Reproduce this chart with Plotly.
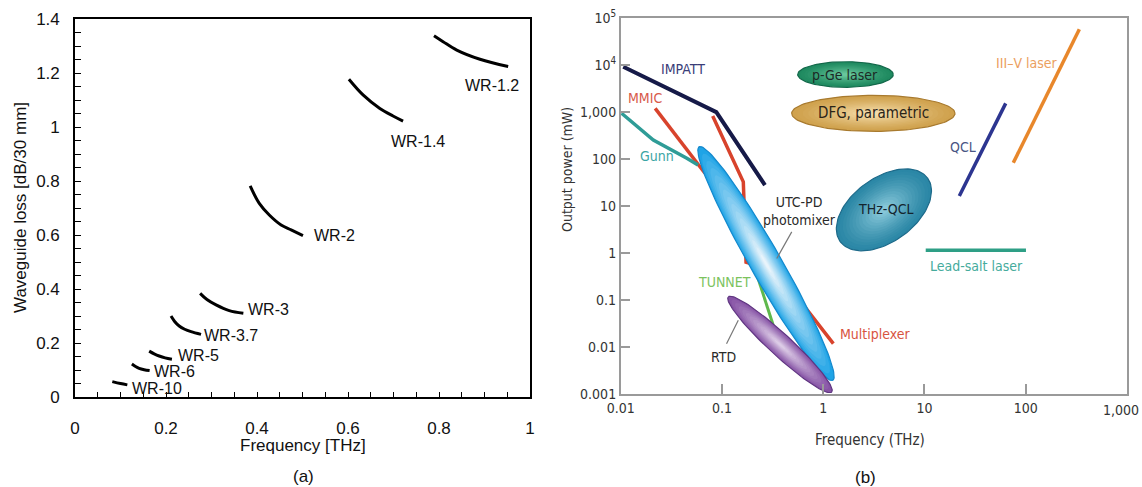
import numpy as np
import plotly.graph_objects as go

W, H = 1142, 487

# ---------------- panel (a) data: waveguide loss curves ----------------
wr_labels = ["WR-10", "WR-6", "WR-5", "WR-3.7", "WR-3", "WR-2", "WR-1.4", "WR-1.2"]
wr10_f = [0.082, 0.100, 0.115]
wr10_l = [0.058, 0.051, 0.046]
wr6_f = [0.125, 0.133, 0.141, 0.152, 0.164]
wr6_l = [0.123, 0.114, 0.107, 0.102, 0.099]
wr5_f = [0.163, 0.174, 0.185, 0.198, 0.213]
wr5_l = [0.171, 0.161, 0.153, 0.146, 0.141]
wr37_f = [0.211, 0.219, 0.229, 0.241, 0.255, 0.277]
wr37_l = [0.301, 0.281, 0.264, 0.252, 0.243, 0.233]
wr3_f = [0.275, 0.290, 0.310, 0.339, 0.370]
wr3_l = [0.385, 0.362, 0.342, 0.321, 0.311]
wr2_f = [0.385, 0.405, 0.427, 0.453, 0.475, 0.501]
wr2_l = [0.783, 0.718, 0.675, 0.638, 0.620, 0.599]
wr14_f = [0.602, 0.633, 0.670, 0.699, 0.721]
wr14_l = [1.178, 1.120, 1.070, 1.042, 1.023]
wr12_f = [0.789, 0.809, 0.839, 0.890, 0.952]
wr12_l = [1.339, 1.317, 1.286, 1.252, 1.225]
wr_label_f = [0.180, 0.218, 0.272, 0.343, 0.426, 0.570, 0.754, 0.917]
wr_label_l = [0.034, 0.095, 0.153, 0.228, 0.326, 0.601, 0.947, 1.154]

# ---------------- panel (b) data: THz source output power ----------------
impatt_f = [0.0106, 0.088, 0.266]
impatt_p = [9300, 1000, 28]
mmic1_f = [0.0219, 0.068]
mmic1_p = [1205, 50]
mmic2_f = [0.081, 0.1626, 0.165, 0.173, 0.203, 0.436, 1.26]
mmic2_p = [826, 32.8, 13.4, 0.637, 0.577, 0.224, 0.0117]
gunn_f = [0.0102, 0.021, 0.045, 0.058]
gunn_p = [950, 254, 104, 75]
tunnet_f = [0.208, 0.321]
tunnet_p = [0.523, 0.0289]
qcl_f = [22.1, 63.5]
qcl_p = [16.3, 1541]
iiiv_f = [75.5, 339]
iiiv_p = [83.4, 58200]
leadsalt_f = [10.3, 100.7]
leadsalt_p = [1.15, 1.15]
utc_end_f = [0.0596, 1.245]
utc_end_p = [183, 0.00194]
rtd_end_f = [0.1156, 1.213]
rtd_end_p = [0.116, 0.00109]
pge_center = (1.66, 6340)
dfg_center = (3.13, 942)
thz_center = (3.98, 8.3)
utc_ptr_f = [0.489, 0.348]
utc_ptr_p = [2.82, 0.764]
rtd_ptr_f = [0.145, 0.111]
rtd_ptr_p = [0.0369, 0.0117]

x_ticks_b = [0.01, 0.1, 1, 10, 100, 1000]
x_text_b = ["0.01", "0.1", "1", "10", "100", "1,000"]
y_ticks_b = [0.001, 0.01, 0.1, 1, 10, 100, 1000, 1e4, 1e5]
y_text_b = ["0.001", "0.01", "0.1", "1", "10", "100", "1,000", "10<sup>4</sup>", "10<sup>5</sup>"]

# ---------------- layout geometry ----------------
xa_dom = [75 / W, 530 / W]
ya_dom = [(H - 397.3) / H, (H - 19.3) / H]
xb_dom = [620.7 / W, 1126.9 / W]
yb_dom = [(H - 393.8) / H, (H - 18.3) / H]
KX = (xb_dom[1] - xb_dom[0]) * W / 5.0   # px per decade
KY = (yb_dom[1] - yb_dom[0]) * H / 8.0

ARIAL = "Liberation Sans, Arial, sans-serif"
NARROW = "DejaVu Sans Condensed, Liberation Sans Narrow, Arial Narrow, Liberation Sans, sans-serif"

fig = go.Figure()

# ---- panel (a) traces
for f, l in [(wr10_f, wr10_l), (wr6_f, wr6_l), (wr5_f, wr5_l), (wr37_f, wr37_l),
             (wr3_f, wr3_l), (wr2_f, wr2_l), (wr14_f, wr14_l), (wr12_f, wr12_l)]:
    fig.add_trace(go.Scatter(x=f, y=l, mode="lines", line=dict(color="black", width=3, shape="spline"),
                             xaxis="x", yaxis="y", showlegend=False, hoverinfo="skip"))

annotations = []
for name, fx, ly in zip(wr_labels, wr_label_f, wr_label_l):
    annotations.append(dict(x=fx, y=ly, xref="x", yref="y", text=name, showarrow=False,
                            font=dict(family=ARIAL, size=16, color="#111"), xanchor="center", yanchor="middle"))


# ---- helper for ellipses on log-log panel (b)
def mix(c1, c2, t):
    a = np.array([int(c1[i:i + 2], 16) for i in (1, 3, 5)], float)
    b = np.array([int(c2[i:i + 2], 16) for i in (1, 3, 5)], float)
    c = a + (b - a) * t
    return "rgb(%d,%d,%d)" % tuple(np.round(c))


def ellipse_xy(cf, cp, a, b, theta, s):
    t = np.linspace(0, 2 * np.pi, 120)
    u0, v0 = np.log10(cf) * KX, np.log10(cp) * KY
    ct, st = np.cos(theta), np.sin(theta)
    u = u0 + s * (a * np.cos(t) * ct - b * np.sin(t) * st)
    v = v0 + s * (a * np.cos(t) * st + b * np.sin(t) * ct)
    return 10 ** (u / KX), 10 ** (v / KY)


def add_ellipse(cf, cp, a, b, theta, edge, outer, inner, n=14, smin=0.12, gamma=1.3):
    for k in range(n):
        s = 1 - (1 - smin) * k / (n - 1)
        t = (k / (n - 1)) ** gamma
        xs, ys = ellipse_xy(cf, cp, a, b, theta, s)
        fig.add_trace(go.Scatter(x=xs, y=ys, mode="lines", fill="toself",
                                 fillcolor=mix(outer, inner, t),
                                 line=dict(color=edge if k == 0 else mix(outer, inner, t), width=1.2 if k == 0 else 0),
                                 xaxis="x2", yaxis="y2", showlegend=False, hoverinfo="skip"))


def add_ellipse_ends(f_ends, p_ends, half_w, edge, outer, inner, **kw):
    u = np.log10(f_ends) * KX
    v = np.log10(p_ends) * KY
    a = 0.5 * np.hypot(u[1] - u[0], v[1] - v[0])
    theta = np.arctan2(v[1] - v[0], u[1] - u[0])
    cf = 10 ** ((u[0] + u[1]) / 2 / KX)
    cp = 10 ** ((v[0] + v[1]) / 2 / KY)
    add_ellipse(cf, cp, a, half_w, theta, edge, outer, inner, **kw)


def add_line(f, p, color, width):
    fig.add_trace(go.Scatter(x=f, y=p, mode="lines", line=dict(color=color, width=width),
                             xaxis="x2", yaxis="y2", showlegend=False, hoverinfo="skip"))


# ---- panel (b) traces
add_ellipse(pge_center[0], pge_center[1], 47.8, 12.8, 0.0, "#13684a", "#1f8a60", "#68c79c")
add_ellipse(dfg_center[0], dfg_center[1], 81.7, 18.0, 0.0, "#a87a2e", "#d0a24e", "#f4dcaa")
add_ellipse(thz_center[0], thz_center[1], 54, 32, np.radians(36), "#1d6a8a", "#2b87a6", "#86c6d8")

add_line(mmic1_f, mmic1_p, "#d8432c", 3.5)
add_line(mmic2_f, mmic2_p, "#d8432c", 3.5)
add_line(gunn_f, gunn_p, "#2f9c97", 3.5)
add_line(impatt_f, impatt_p, "#161a48", 4)
add_line(tunnet_f, tunnet_p, "#5fb84c", 3)
add_line(qcl_f, qcl_p, "#2c3590", 3.5)
add_line(iiiv_f, iiiv_p, "#e8872b", 3.5)
add_line(leadsalt_f, leadsalt_p, "#2e9f86", 3.5)

add_ellipse_ends(utc_end_f, utc_end_p, 15.5, "#1488cc", "#1fa4e6", "#e8f4fb", n=16, smin=0.08, gamma=0.9)
add_ellipse_ends(rtd_end_f, rtd_end_p, 11.0, "#5f3580", "#8653a5", "#dccbe6", n=14, smin=0.1, gamma=1.0)

add_line(utc_ptr_f, utc_ptr_p, "#777777", 1.2)
add_line(rtd_ptr_f, rtd_ptr_p, "#777777", 1.2)


def lab(text, f, p, color, size=14):
    annotations.append(dict(x=np.log10(f), y=np.log10(p), xref="x2", yref="y2", text=text, showarrow=False,
                            font=dict(family=NARROW, size=size, color=color), xanchor="center", yanchor="middle"))


lab("IMPATT", 0.0415, 8300, "#3a3d78")
lab("MMIC", 0.0174, 2028, "#d85a4a")
lab("Gunn", 0.0227, 116, "#3aa5a5")
lab("p-Ge laser", pge_center[0], pge_center[1], "#1c2a26")
lab("DFG, parametric", dfg_center[0], dfg_center[1], "#2a2418", 15)
lab("THz-QCL", 4.2, 8.6, "#14242e")
lab("UTC-PD<br>photomixer", 0.582, 7.87, "#2a2a2a")
lab("TUNNET", 0.107, 0.242, "#7cc35e")
lab("RTD", 0.103, 0.0061, "#2a2a2a")
lab("Multiplexer", 3.29, 0.0192, "#d8543f")
lab("QCL", 23.9, 183, "#4a5584")
lab("III\u2013V laser", 102, 11000, "#eba060")
lab("Lead-salt laser", 32.7, 0.531, "#45ab9c")

# last x tick label of panel (b): drawn right-aligned so it stays inside the page
x_text_b_shown = x_text_b[:-1] + [""]
annotations.append(dict(x=np.log10(x_ticks_b[-1]), y=(H - 410) / H, xref="x2", yref="paper",
                        text=x_text_b[-1], showarrow=False, xanchor="right", yanchor="middle", xshift=14,
                        font=dict(family=NARROW, size=14, color="#333")))


# ---- titles / captions
def paper_text(text, x, y, family, size, color, angle=0):
    annotations.append(dict(x=x / W, y=(H - y) / H, xref="paper", yref="paper", text=text, showarrow=False,
                            textangle=angle, font=dict(family=family, size=size, color=color),
                            xanchor="center", yanchor="middle"))


paper_text("Frequency [THz]", 303, 445, ARIAL, 17, "#111")
paper_text("Waveguide loss [dB/30 mm]", 20, 208, ARIAL, 17, "#111", -90)
paper_text("(a)", 303, 476.5, ARIAL, 17, "#111")
paper_text("Frequency (THz)", 870, 440, NARROW, 15, "#333")
paper_text("Output power (mW)", 567, 170, NARROW, 14, "#333", -90)
paper_text("(b)", 865, 477.5, ARIAL, 17, "#111")

fig.update_layout(
    template=None,
    width=W, height=H, margin=dict(l=0, r=0, t=0, b=0, pad=0), autosize=False,
    paper_bgcolor="white", plot_bgcolor="white",
    annotations=annotations,
    xaxis=dict(domain=xa_dom, range=[0, 1], anchor="y", automargin=False, tickvals=[0, 0.2, 0.4, 0.6, 0.8, 1],
               ticktext=["0", "0.2", "0.4", "0.6", "0.8", "1"], ticklabeloverflow="allow",
               ticks="inside", ticklen=6, tickcolor="black", tickwidth=1.2,
               minor=dict(dtick=0.05, ticks="inside", ticklen=6, tickcolor="black", tickwidth=1.2),
               showline=True, linecolor="black", linewidth=1.6, mirror=True, showgrid=False, zeroline=False,
               tickfont=dict(family=ARIAL, size=17, color="#111"), ticklabelstandoff=14),
    yaxis=dict(domain=ya_dom, range=[0, 1.4], anchor="x", automargin=False,
               tickvals=[0, 0.2, 0.4, 0.6, 0.8, 1, 1.2, 1.4],
               ticktext=["0", "0.2", "0.4", "0.6", "0.8", "1", "1.2", "1.4"], ticklabeloverflow="allow",
               ticks="inside", ticklen=6, tickcolor="black", tickwidth=1.2,
               minor=dict(dtick=0.05, ticks="inside", ticklen=6, tickcolor="black", tickwidth=1.2),
               showline=True, linecolor="black", linewidth=1.6, mirror=True, showgrid=False, zeroline=False,
               tickfont=dict(family=ARIAL, size=17, color="#111"), ticklabelstandoff=10),
    xaxis2=dict(domain=xb_dom, type="log", range=[-2, 3], anchor="y2", automargin=False,
                tickvals=x_ticks_b, ticktext=x_text_b_shown, ticklabeloverflow="allow",
                ticks="inside", ticklen=10, tickcolor="#9a9a9a", tickwidth=1.5,
                showline=True, linecolor="#9a9a9a", linewidth=1.5, mirror=True, showgrid=False, zeroline=False,
                tickfont=dict(family=NARROW, size=14, color="#333"), ticklabelstandoff=1),
    yaxis2=dict(domain=yb_dom, type="log", range=[-3, 5], anchor="x2", automargin=False,
                tickvals=y_ticks_b, ticktext=y_text_b, ticklabeloverflow="allow",
                ticks="inside", ticklen=10, tickcolor="#9a9a9a", tickwidth=1.5,
                showline=True, linecolor="#9a9a9a", linewidth=1.5, mirror=True, showgrid=False, zeroline=False,
                tickfont=dict(family=NARROW, size=14, color="#333"), ticklabelstandoff=0),
)

fig.write_html("out.html")
